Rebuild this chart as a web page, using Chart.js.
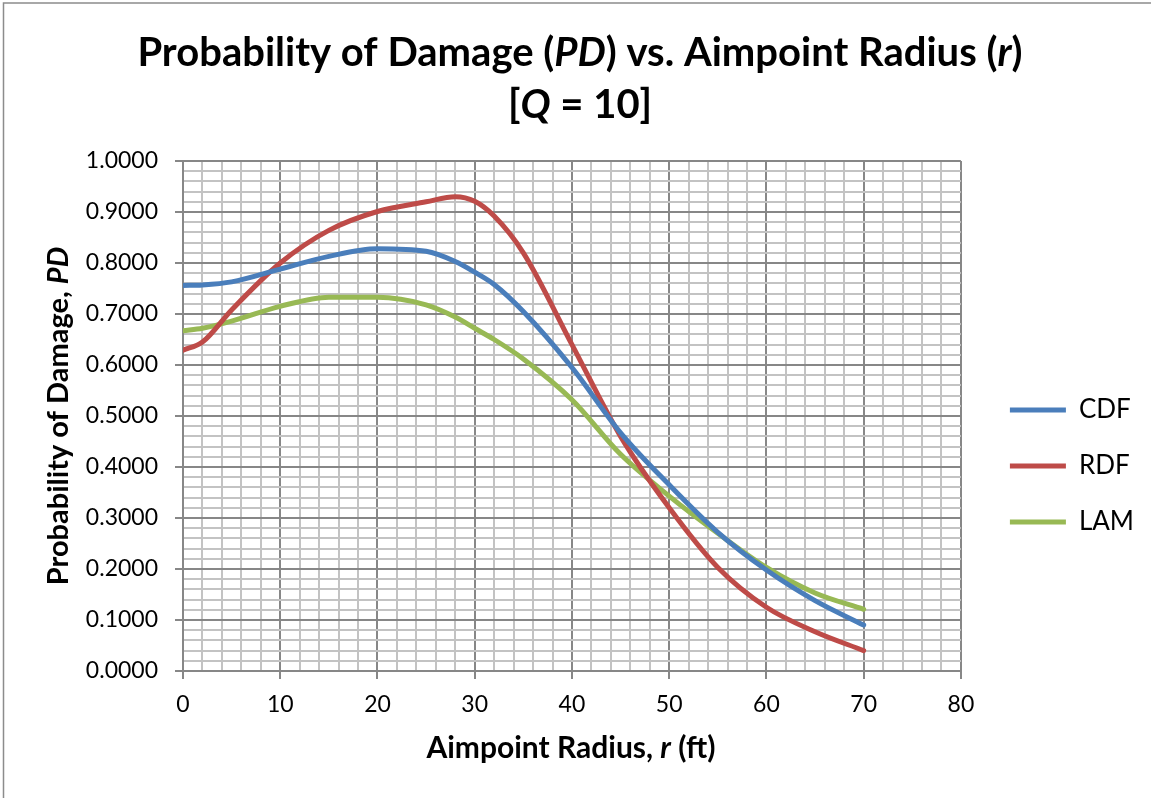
<!DOCTYPE html>
<html>
<head>
<meta charset="utf-8">
<script src="https://cdn.jsdelivr.net/npm/chart.js@4.4.1/dist/chart.umd.min.js"></script>
<style>
    body { margin: 0; background: #fff; }
    #wrap { width: 1151px; height: 798px; }
</style>
</head>
<body>
<div id="wrap"><canvas id="pdChart" width="1151" height="798"></canvas></div>
<script>
// Aimpoint radius r (ft)
const radius = [0, 2, 5, 10, 15, 20, 25, 28, 30, 32, 35, 40, 45, 50, 55, 60, 65, 70];

// Probability of damage for each model
const cdfValues = [0.756, 0.757, 0.763, 0.788, 0.813, 0.828, 0.823, 0.803, 0.782, 0.758, 0.705, 0.595, 0.467, 0.365, 0.272, 0.198, 0.138, 0.090];
const rdfValues = [0.629, 0.645, 0.708, 0.800, 0.864, 0.901, 0.920, 0.930, 0.921, 0.892, 0.820, 0.640, 0.460, 0.320, 0.203, 0.125, 0.077, 0.040];
const lamValues = [0.667, 0.672, 0.686, 0.715, 0.733, 0.733, 0.718, 0.694, 0.672, 0.650, 0.612, 0.532, 0.425, 0.343, 0.270, 0.203, 0.153, 0.121];

const seriesNames = ['CDF', 'RDF', 'LAM'];
const seriesColors = ['#4a7ebb', '#be4b48', '#98b954'];

const xTicks = { min: 0, max: 80, major: 10, minor: 2 };
const yTicks = { min: 0, max: 1, major: 0.1, minor: 0.02 };

const MAJOR_GRID = '#878787';
const MINOR_GRID = '#c3c3c3';
const FONT = 'Lato, "Open Sans", sans-serif';

function toPoints(values) {
    return values.map((v, i) => ({ x: radius[i], y: v }));
}

function isMajorX(v) { return Math.round(v) % xTicks.major === 0; }
function isMajorY(v) { return Math.round(v * 100) % Math.round(yTicks.major * 100) === 0; }

// Draws a line of text made of plain and italic parts, centred on (x, y)
function drawRich(ctx, parts, x, y, size, rotate) {
    ctx.save();
    ctx.translate(x, y);
    if (rotate) ctx.rotate(-Math.PI / 2);
    ctx.fillStyle = '#000';
    ctx.textBaseline = 'middle';
    ctx.textAlign = 'left';
    const fonts = parts.map(p => (p.i ? 'italic ' : '') + 'bold ' + size + 'px ' + FONT);
    let total = 0;
    const widths = parts.map((p, k) => {
        ctx.font = fonts[k];
        const w = ctx.measureText(p.t).width;
        total += w;
        return w;
    });
    let cx = -total / 2;
    parts.forEach((p, k) => {
        ctx.font = fonts[k];
        ctx.fillText(p.t, cx, 0);
        cx += widths[k];
    });
    ctx.restore();
}

const titleLines = [
    [{ t: 'Probability of Damage (' }, { t: 'PD', i: true }, { t: ') vs. Aimpoint Radius (' }, { t: 'r', i: true }, { t: ')' }],
    [{ t: '[' }, { t: 'Q', i: true }, { t: ' = 10]' }]
];
const xTitle = [{ t: 'Aimpoint Radius, ' }, { t: 'r', i: true }, { t: ' (ft)' }];
const yTitle = [{ t: 'Probability of Damage, ' }, { t: 'PD', i: true }];

const decorPlugin = {
    id: 'decor',
    beforeDraw(chart) {
        const ctx = chart.ctx;
        ctx.save();
        ctx.fillStyle = '#fff';
        ctx.fillRect(0, 0, chart.width, chart.height);
        // outer frame (only left and top edges are visible)
        ctx.strokeStyle = '#8c8c8c';
        ctx.lineWidth = 1.5;
        ctx.beginPath();
        ctx.moveTo(3.5, chart.height);
        ctx.lineTo(3.5, 3);
        ctx.lineTo(chart.width, 3);
        ctx.stroke();
        ctx.restore();
    },
    afterLayout(chart) {
        // push legend away from the plot and down like the Excel layout
        const lg = chart.legend;
        if (!lg) return;
        const pad = lg.options.labels.padding;
        const dx = chart.chartArea.right + 49 - pad - lg.left;
        const dy = 466 - (lg.top + lg.bottom) / 2;
        lg.left += dx; lg.right += dx;
        lg.top += dy; lg.bottom += dy;
    },
    afterDraw(chart) {
        const ctx = chart.ctx;
        const area = chart.chartArea;
        drawRich(ctx, titleLines[0], 580, 53, 40, false);
        drawRich(ctx, titleLines[1], 580, 105, 40, false);
        drawRich(ctx, xTitle, (area.left + area.right) / 2 - 1, 748, 30, false);
        drawRich(ctx, yTitle, 59, (area.top + area.bottom) / 2, 29, true);
    }
};

const datasets = [cdfValues, rdfValues, lamValues].map((vals, i) => ({
    label: seriesNames[i],
    data: toPoints(vals),
    borderColor: seriesColors[i],
    backgroundColor: seriesColors[i],
    borderWidth: 5,
    borderCapStyle: 'round',
    pointRadius: 0,
    pointHoverRadius: 0,
    cubicInterpolationMode: 'monotone',
    fill: false
}));

const chart = new Chart(document.getElementById('pdChart').getContext('2d'), {
    type: 'line',
    data: { datasets },
    options: {
        responsive: false,
        animation: false,
        layout: { padding: { top: 161, left: 73, bottom: 67, right: 26 } },
        plugins: {
            title: { display: false },
            tooltip: { enabled: false },
            legend: {
                position: 'right',
                labels: {
                    usePointStyle: true,
                    pointStyle: 'line',
                    pointStyleWidth: 56,
                    padding: 30,
                    color: '#000',
                    font: { family: FONT, size: 26 }
                }
            }
        },
        scales: {
            x: {
                type: 'linear',
                min: xTicks.min,
                max: xTicks.max,
                afterFit(scale) { scale.height = 60; },
                grid: {
                    color: c => isMajorX(c.tick.value) ? MAJOR_GRID : MINOR_GRID,
                    tickColor: c => isMajorX(c.tick.value) ? MAJOR_GRID : 'rgba(0,0,0,0)',
                    lineWidth: 2,
                    tickLength: 8
                },
                border: { color: MAJOR_GRID, width: 2 },
                ticks: {
                    stepSize: xTicks.minor,
                    autoSkip: false,
                    maxRotation: 0,
                    padding: 12,
                    color: '#000',
                    font: { family: FONT, size: 23 },
                    callback: v => isMajorX(v) ? String(Math.round(v)) : ''
                }
            },
            y: {
                min: yTicks.min,
                max: yTicks.max,
                afterFit(scale) { scale.width = 110; },
                grid: {
                    color: c => isMajorY(c.tick.value) ? MAJOR_GRID : MINOR_GRID,
                    tickColor: c => isMajorY(c.tick.value) ? MAJOR_GRID : 'rgba(0,0,0,0)',
                    lineWidth: 2,
                    tickLength: 8
                },
                border: { color: MAJOR_GRID, width: 2 },
                ticks: {
                    stepSize: yTicks.minor,
                    autoSkip: false,
                    padding: 17,
                    color: '#000',
                    font: { family: FONT, size: 23 },
                    callback: v => isMajorY(v) ? v.toFixed(4) : ''
                }
            }
        }
    },
    plugins: [decorPlugin]
});
</script>
</body>
</html>
